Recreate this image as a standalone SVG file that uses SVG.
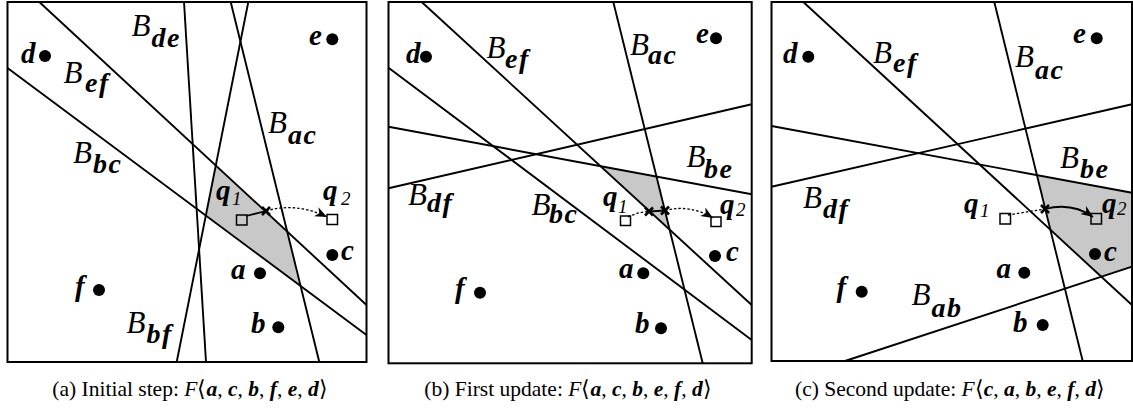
<svg xmlns="http://www.w3.org/2000/svg" width="1133" height="408" viewBox="0 0 1133 408">
<style>
.frame{fill:none;stroke:#000;stroke-width:2}
.ln{fill:none;stroke:#000;stroke-width:1.9}
.region{fill:#c8c8c8;stroke:none}
.dot{fill:#000}
.sq{fill:none;stroke:#000;stroke-width:1.5}
.cross{stroke:#000;stroke-width:2.5}
.solid{fill:none;stroke:#000;stroke-width:1.8}
.dash{fill:none;stroke:#000;stroke-width:1.3;stroke-dasharray:2.5,2}
text{font-family:"Liberation Serif","Times New Roman",serif}
.pt{font-style:italic;font-weight:bold;font-size:29px}
.bl{font-style:italic;font-size:31px}
.sub{font-weight:bold;font-size:28px;letter-spacing:1.5px}
.qs{font-weight:normal;font-size:19px;letter-spacing:0}
.cap{font-size:21.5px}
.m{font-style:italic;font-weight:bold}
.it{font-style:italic}
</style>
<defs>
<marker id="arr" markerUnits="userSpaceOnUse" markerWidth="16" markerHeight="12" refX="12" refY="5" orient="auto">
<path d="M0,0 L12,5 L0,10 L3.5,5 Z" fill="#000"/>
</marker>
</defs>

<!-- Panel (a) -->
<g id="panel-a">
<polygon id="a-cell" class="region" points="215.8,165.3 287,231.2 300.3,285.7 205.9,215.6"/>
<g id="a-bisectors">
<line class="ln" x1="39.3" y1="2" x2="366.5" y2="305"/>
<line class="ln" x1="7.5" y1="68" x2="366.5" y2="335"/>
<line class="ln" x1="184" y1="2" x2="206" y2="362"/>
<line class="ln" x1="248.3" y1="2" x2="176.7" y2="362"/>
<line class="ln" x1="230.7" y1="2" x2="319.3" y2="362"/>
</g>
<rect class="frame" x="7.5" y="2" width="359" height="360"/>
<g id="a-labels">
<text class="bl" x="131.5" y="36">B<tspan class="sub" x="151.5" y="46.5">de</tspan></text>
<text class="bl" x="63.5" y="83">B<tspan class="sub" x="85" y="92">ef</tspan></text>
<text class="bl" x="73" y="163">B<tspan class="sub" x="93" y="173">bc</tspan></text>
<text class="bl" x="268" y="133">B<tspan class="sub" x="288" y="144">ac</tspan></text>
<text class="bl" x="126.5" y="333">B<tspan class="sub" x="146.5" y="343">bf</tspan></text>
</g>
<g id="a-d"><circle class="dot" cx="45" cy="56" r="6"/><text class="pt" x="21" y="63">d</text></g>
<g id="a-e"><circle class="dot" cx="332.3" cy="39.3" r="6"/><text class="pt" x="309" y="45">e</text></g>
<g id="a-c"><circle class="dot" cx="332.3" cy="255" r="6"/><text class="pt" x="341" y="260">c</text></g>
<g id="a-a"><circle class="dot" cx="260" cy="273.3" r="6"/><text class="pt" x="231" y="279">a</text></g>
<g id="a-f"><circle class="dot" cx="99" cy="290" r="6"/><text class="pt" x="75" y="296">f</text></g>
<g id="a-b"><circle class="dot" cx="278.3" cy="327.3" r="6"/><text class="pt" x="251" y="333">b</text></g>
<g id="a-q1"><rect class="sq" x="236.5" y="215" width="10.5" height="10"/><text class="pt" x="216" y="200">q<tspan class="qs" x="232" y="205">1</tspan></text></g>
<g id="a-q2"><rect class="sq" x="327" y="214.5" width="10.5" height="10"/><text class="pt" x="323" y="200">q<tspan class="qs" x="341" y="205">2</tspan></text></g>
<g id="a-connectors">
<line class="solid" x1="246" y1="216" x2="266" y2="211"/>
<path class="cross" d="M262,207 L270,215 M262,215 L270,207"/>
<path class="dash" d="M266,211 Q296,202 327,217" marker-end="url(#arr)"/>
</g>
</g>

<!-- Panel (b) -->
<g id="panel-b">
<polygon id="b-cell" class="region" points="600.6,166.1 656.5,176.6 669.6,229.5"/>
<g id="b-bisectors">
<line class="ln" x1="421.7" y1="2" x2="751.7" y2="305"/>
<line class="ln" x1="388.5" y1="67.7" x2="751.7" y2="340"/>
<line class="ln" x1="613.3" y1="2" x2="702.7" y2="363.3"/>
<line class="ln" x1="388.5" y1="188.3" x2="751.7" y2="104.3"/>
<line class="ln" x1="388.5" y1="126.7" x2="751.7" y2="194.3"/>
</g>
<rect class="frame" x="388.5" y="2" width="363.2" height="361.3"/>
<g id="b-labels">
<text class="bl" x="486.5" y="58">B<tspan class="sub" x="505" y="68">ef</tspan></text>
<text class="bl" x="630" y="55">B<tspan class="sub" x="648" y="64">ac</tspan></text>
<text class="bl" x="686.5" y="167">B<tspan class="sub" x="704" y="178">be</tspan></text>
<text class="bl" x="408" y="205">B<tspan class="sub" x="427" y="212">df</tspan></text>
<text class="bl" x="531.5" y="215">B<tspan class="sub" x="549" y="223">bc</tspan></text>
</g>
<g id="b-d"><circle class="dot" cx="426" cy="56.7" r="6"/><text class="pt" x="406" y="63">d</text></g>
<g id="b-e"><circle class="dot" cx="716" cy="38.3" r="6"/><text class="pt" x="696" y="43">e</text></g>
<g id="b-c"><circle class="dot" cx="715" cy="256" r="6"/><text class="pt" x="726" y="261">c</text></g>
<g id="b-a"><circle class="dot" cx="643.3" cy="273.3" r="6"/><text class="pt" x="619" y="278">a</text></g>
<g id="b-f"><circle class="dot" cx="480" cy="292.7" r="6"/><text class="pt" x="455" y="298">f</text></g>
<g id="b-b"><circle class="dot" cx="661" cy="328.3" r="6"/><text class="pt" x="635" y="333">b</text></g>
<g id="b-q1"><rect class="sq" x="620.5" y="216" width="10" height="9.5"/><text class="pt" x="603" y="206">q<tspan class="qs" x="618" y="213">1</tspan></text></g>
<g id="b-q2"><rect class="sq" x="711" y="217" width="10" height="9.5"/><text class="pt" x="720" y="214">q<tspan class="qs" x="736" y="216">2</tspan></text></g>
<g id="b-connectors">
<path class="dash" d="M628,217 Q638,212 649,211.5"/>
<line class="solid" x1="649" y1="211.5" x2="665" y2="210.5"/>
<path class="cross" d="M645,207.5 L653,215.5 M645,215.5 L653,207.5"/>
<path class="cross" d="M661,206.5 L669,214.5 M661,214.5 L669,206.5"/>
<path class="dash" d="M665,210.5 Q690,204 713,218" marker-end="url(#arr)"/>
</g>
</g>

<!-- Panel (c) -->
<g id="panel-c">
<polygon id="c-cell" class="region" points="1037,175.2 1132,192.7 1132,266.7 1101.1,276.7 1050.5,230"/>
<g id="c-bisectors">
<line class="ln" x1="803.3" y1="2" x2="1132" y2="305"/>
<line class="ln" x1="994.3" y1="2" x2="1082.7" y2="361"/>
<line class="ln" x1="771.5" y1="186.7" x2="1132" y2="104.3"/>
<line class="ln" x1="771.5" y1="126" x2="1132" y2="192.7"/>
<line class="ln" x1="845" y1="361" x2="1132" y2="266.7"/>
</g>
<rect class="frame" x="771.5" y="2" width="360.5" height="359"/>
<g id="c-labels">
<text class="bl" x="873" y="63">B<tspan class="sub" x="893" y="72">ef</tspan></text>
<text class="bl" x="1015" y="67">B<tspan class="sub" x="1035" y="79">ac</tspan></text>
<text class="bl" x="1060" y="168">B<tspan class="sub" x="1080" y="178">be</tspan></text>
<text class="bl" x="803" y="208">B<tspan class="sub" x="823" y="218">df</tspan></text>
<text class="bl" x="911.5" y="305">B<tspan class="sub" x="931.5" y="317">ab</tspan></text>
</g>
<g id="c-d"><circle class="dot" cx="808.3" cy="56.7" r="6"/><text class="pt" x="783" y="63">d</text></g>
<g id="c-e"><circle class="dot" cx="1096.7" cy="38.3" r="6"/><text class="pt" x="1073" y="43">e</text></g>
<g id="c-c"><circle class="dot" cx="1095" cy="254" r="6"/><text class="pt" x="1104" y="261">c</text></g>
<g id="c-a"><circle class="dot" cx="1024.3" cy="272.7" r="6"/><text class="pt" x="996.5" y="278">a</text></g>
<g id="c-f"><circle class="dot" cx="861.7" cy="291.7" r="6"/><text class="pt" x="836.5" y="297">f</text></g>
<g id="c-b"><circle class="dot" cx="1042.7" cy="325" r="6"/><text class="pt" x="1013" y="332">b</text></g>
<g id="c-q1"><rect class="sq" x="1000" y="213.5" width="10.5" height="10.5"/><text class="pt" x="964" y="213">q<tspan class="qs" x="980" y="217">1</tspan></text></g>
<g id="c-q2"><rect class="sq" x="1091" y="213.5" width="10.5" height="10.5"/><text class="pt" x="1102" y="213">q<tspan class="qs" x="1117" y="215">2</tspan></text></g>
<g id="c-connectors">
<line class="dash" x1="1008" y1="215" x2="1045" y2="209"/>
<path class="cross" d="M1041,205 L1049,213 M1041,213 L1049,205"/>
<path class="solid" d="M1045,209 Q1072,202 1093,217" marker-end="url(#arr)"/>
</g>
</g>

<g id="captions">
<text class="cap" x="190" y="396" text-anchor="middle">(a)  Initial step: <tspan class="it">F</tspan>⟨<tspan class="m">a</tspan>, <tspan class="m">c</tspan>, <tspan class="m">b</tspan>, <tspan class="m">f</tspan>, <tspan class="m">e</tspan>, <tspan class="m">d</tspan>⟩</text>
<text class="cap" x="568" y="396" text-anchor="middle">(b)  First update: <tspan class="it">F</tspan>⟨<tspan class="m">a</tspan>, <tspan class="m">c</tspan>, <tspan class="m">b</tspan>, <tspan class="m">e</tspan>, <tspan class="m">f</tspan>, <tspan class="m">d</tspan>⟩</text>
<text class="cap" x="950" y="396" text-anchor="middle">(c)  Second update: <tspan class="it">F</tspan>⟨<tspan class="m">c</tspan>, <tspan class="m">a</tspan>, <tspan class="m">b</tspan>, <tspan class="m">e</tspan>, <tspan class="m">f</tspan>, <tspan class="m">d</tspan>⟩</text>
</g>
</svg>
